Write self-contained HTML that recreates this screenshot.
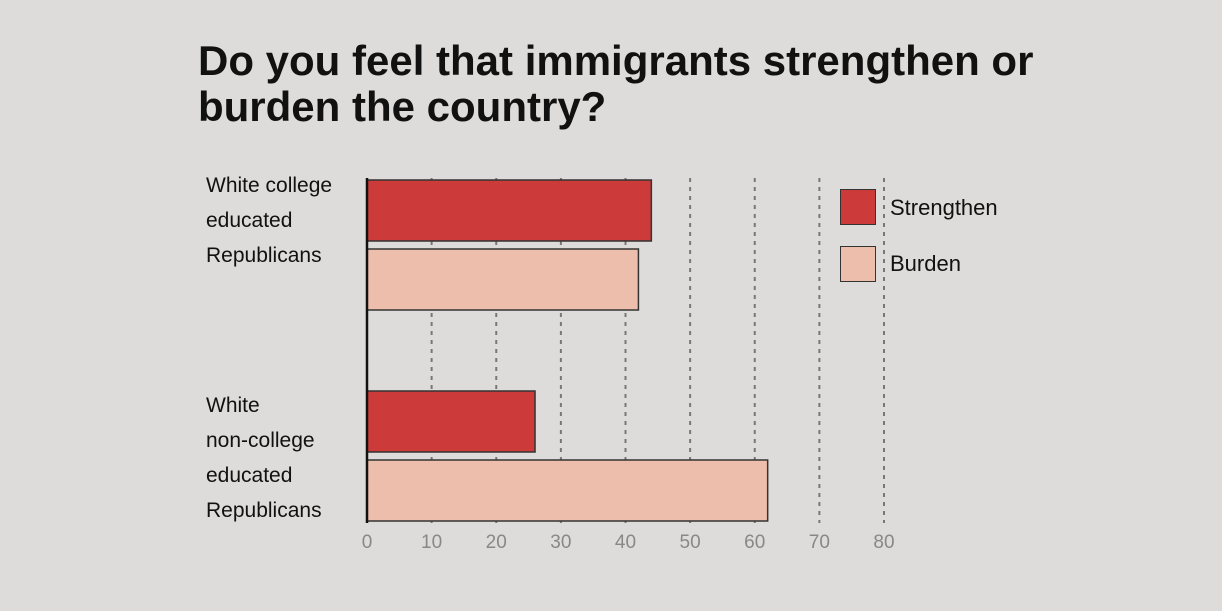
<!DOCTYPE html>
<html><head><meta charset="utf-8">
<style>
html,body{margin:0;padding:0}
body{width:1222px;height:611px;background:#dddcda;font-family:"Liberation Sans",sans-serif;overflow:hidden;position:relative}
.title{position:absolute;left:198px;top:38px;font-size:42px;line-height:46px;color:#111;letter-spacing:0px;margin:0;font-weight:bold}
.cat{position:absolute;left:206px;font-size:21px;line-height:35px;color:#111}
.leg{position:absolute;font-size:22px;color:#111}
.sw{position:absolute;width:36px;height:36px;border:1.5px solid #333;box-sizing:border-box}
</style></head>
<body>
<h1 class="title">Do you feel that immigrants strengthen or<br>burden the country?</h1>
<div class="cat" style="top:168px">White college<br>educated<br>Republicans</div>
<div class="cat" style="top:388px">White<br>non-college<br>educated<br>Republicans</div>
<div class="sw" style="left:840px;top:189px;background:#cd3a3a"></div>
<div class="leg" style="left:890px;top:195px">Strengthen</div>
<div class="sw" style="left:840px;top:246px;background:#ecbeab"></div>
<div class="leg" style="left:890px;top:251px">Burden</div>
<svg id="chart" width="1222" height="611" style="position:absolute;left:0;top:0"></svg>
<script>
const categories=["White college educated Republicans","White non-college educated Republicans"];
const strengthen=[44,26];
const burden=[42,62];
const ticks=[0,10,20,30,40,50,60,70,80];
const NS="http://www.w3.org/2000/svg";
const svg=document.getElementById('chart');
const x=v=>367+v*(884-367)/80;
const groupTop=[180,391];
function mk(tag,attrs){const e=document.createElementNS(NS,tag);for(const k in attrs)e.setAttribute(k,attrs[k]);svg.appendChild(e);return e;}
ticks.forEach(t=>{
  if(t>0){const l=mk('line',{x1:x(t),x2:x(t),y1:178,y2:523,stroke:'#777','stroke-width':2,'stroke-dasharray':'4,5'});
  
  }
  const tx=mk('text',{x:x(t),y:548,'text-anchor':'middle','font-size':19,fill:'#888','font-family':'Liberation Sans Narrow, Liberation Sans, sans-serif'});
  tx.textContent=t;
  
  
});
categories.forEach((c,i)=>{
  const y0=groupTop[i];
  const b1=mk('rect',{x:x(0),y:y0,width:x(strengthen[i])-x(0),height:61,fill:'#cd3a3a',stroke:'#333','stroke-width':1.5});
  
  
  const b2=mk('rect',{x:x(0),y:y0+69,width:x(burden[i])-x(0),height:61,fill:'#ecbeab',stroke:'#333','stroke-width':1.5});
  
  
});
const ax=mk('line',{x1:367,x2:367,y1:178,y2:523,stroke:'#111','stroke-width':2.5});


</script>
</body></html>
